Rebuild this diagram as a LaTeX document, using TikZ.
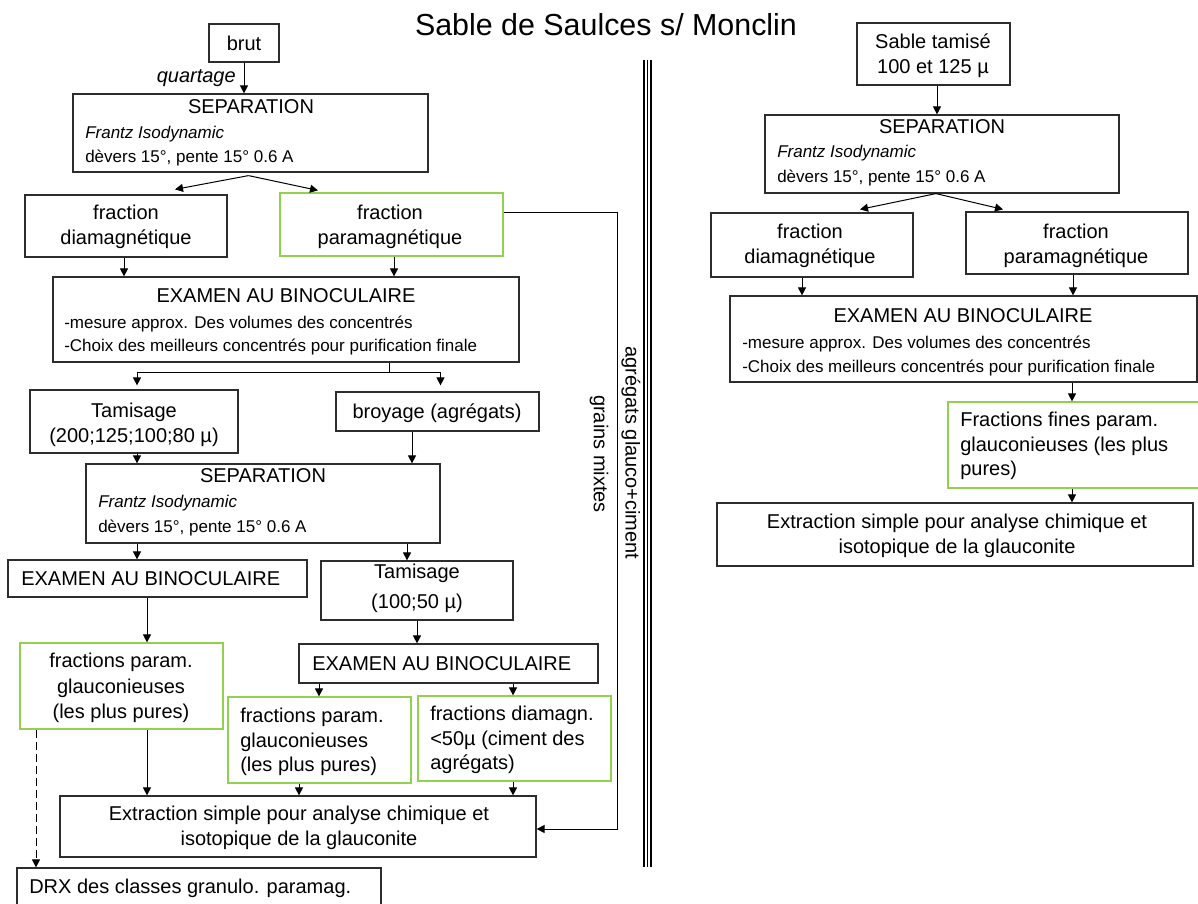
\documentclass[tikz,border=0pt]{standalone}
\usepackage{fontspec}
\setmainfont{Liberation Sans}
\usetikzlibrary{arrows.meta,calc,fit}
\definecolor{lgreen}{RGB}{146,208,80}
\definecolor{bline}{RGB}{45,45,45}
\begin{document}
\begin{tikzpicture}[x=0.75pt,y=-0.75pt,
 box/.style={draw=bline,line width=0.9pt,inner sep=0pt},
 gbox/.style={draw=lgreen,line width=0.9pt,inner sep=0pt},
 mt/.style={font=\fontsize{15pt}{18pt}\selectfont,inner sep=0pt,anchor=base},
 st/.style={font=\fontsize{12.75pt}{15pt}\selectfont,inner sep=0pt,anchor=base west},
 arr/.style={draw=black,line width=0.75pt,-{Triangle[width=6pt,length=6pt]}},
 ln/.style={draw=black,line width=0.75pt},
 sep3/.style={draw=black,line width=0.9pt}]
\clip (0,0) rectangle (1198,903);
\fill[white] (0,0) rectangle (1198,903);

% title
\node[inner sep=0pt,anchor=base,font=\fontsize{22.8pt}{26pt}\selectfont] (title) at (606,35) {Sable de Saulces s/ Monclin};

% ---------------- left boxes ----------------
\node[box,fit={(209,24) (279,62)}] (brut) {};
\node[box,fit={(73,94) (428,172)}] (sep1) {};
\node[box,fit={(25,195) (227,257)}] (dia) {};
\node[gbox,fit={(280,193) (503,256)}] (para) {};
\node[box,fit={(53,277) (519,362)}] (exa1) {};
\node[box,fit={(30,390) (238,453)}] (tam1) {};
\node[box,fit={(336,392) (539,431)}] (bro) {};
\node[box,fit={(86,464) (440,543)}] (sep2) {};
\node[box,fit={(8,560) (307,597)}] (exa2) {};
\node[box,fit={(321,561) (513,620)}] (tam2) {};
\node[gbox,fit={(20,643) (223,729)}] (g1) {};
\node[box,fit={(299,644) (598,683)}] (exa3) {};
\node[gbox,fit={(228,697) (411,783)}] (g2) {};
\node[gbox,fit={(418,696) (611,781)}] (g3) {};
\node[box,fit={(60,796) (536,857)}] (ext1) {};
\node[box,fit={(17,868) (381,915)}] (drx) {};

% ---------------- right boxes ----------------
\node[box,fit={(857,23) (1010,85)}] (sab) {};
\node[box,fit={(765,115) (1119,193)}] (sepR) {};
\node[box,fit={(711,213) (913,277)}] (diaR) {};
\node[box,fit={(966,212) (1188,274)}] (paraR) {};
\node[box,fit={(730,296) (1197,382)}] (exaR) {};
\node[gbox,fit={(948,402) (1215,488)}] (finR) {};
\node[box,fit={(717,503) (1193,566)}] (extR) {};

% ---------------- left texts ----------------
\node[mt] (brut-t) at (244,50) {brut};
\node[mt,anchor=base east,font=\fontsize{15pt}{18pt}\selectfont\itshape] (quart) at (236,82) {quartage};
\node[mt] (sep1-t1) at (251,113) {SEPARATION};
\node[st,font=\fontsize{12.75pt}{15pt}\selectfont\itshape] (sep1-t2) at (85,138) {Frantz Isodynamic};
\node[st] (sep1-t3) at (85,162) {dèvers 15°, pente 15° 0.6 A};
\node[mt] (dia-t1) at (126,219) {fraction};
\node[mt] (dia-t2) at (126,244) {diamagnétique};
\node[mt] (para-t1) at (390,219) {fraction};
\node[mt] (para-t2) at (390,244) {paramagnétique};
\node[mt] (exa1-t1) at (286,302) {EXAMEN AU BINOCULAIRE};
\node[st] (exa1-t2) at (64,328) {-mesure approx. Des volumes des concentrés};
\node[st] (exa1-t3) at (64,351) {-Choix des meilleurs concentrés pour purification finale};
\node[mt] (tam1-t1) at (134,417) {Tamisage};
\node[mt] (tam1-t2) at (134,442) {(200;125;100;80 µ)};
\node[mt] (bro-t) at (437,418) {broyage (agrégats)};
\node[mt] (sep2-t1) at (263,482) {SEPARATION};
\node[st,font=\fontsize{12.75pt}{15pt}\selectfont\itshape] (sep2-t2) at (98,507) {Frantz Isodynamic};
\node[st] (sep2-t3) at (98,532) {dèvers 15°, pente 15° 0.6 A};
\node[mt,anchor=base west] (exa2-t) at (21,585) {EXAMEN AU BINOCULAIRE};
\node[mt] (tam2-t1) at (417,578) {Tamisage};
\node[mt] (tam2-t2) at (417,608) {(100;50 µ)};
\node[mt] (g1-t1) at (121,667) {fractions param.};
\node[mt] (g1-t2) at (121,693) {glauconieuses};
\node[mt] (g1-t3) at (121,718) {(les plus pures)};
\node[mt,anchor=base west] (exa3-t) at (312,670) {EXAMEN AU BINOCULAIRE};
\node[mt,anchor=base west] (g2-t1) at (240,722) {fractions param.};
\node[mt,anchor=base west] (g2-t2) at (240,747) {glauconieuses};
\node[mt,anchor=base west] (g2-t3) at (240,771) {(les plus pures)};
\node[mt,anchor=base west] (g3-t1) at (430,720) {fractions diamagn.};
\node[mt,anchor=base west] (g3-t2) at (430,745) {<50µ (ciment des};
\node[mt,anchor=base west] (g3-t3) at (430,769) {agrégats)};
\node[mt] (ext1-t1) at (299,820) {Extraction simple pour analyse chimique et};
\node[mt] (ext1-t2) at (299,845) {isotopique de la glauconite};
\node[mt,anchor=base west] (drx-t) at (29,893) {DRX des classes granulo. paramag.};
\node[mt,anchor=center,rotate=-90] (agr) at (631,453) {agrégats glauco+ciment};
\node[mt,anchor=center,rotate=-90] (gmx) at (599,454) {grains mixtes};

% ---------------- right texts ----------------
\node[mt] (sab-t1) at (933,48) {Sable tamisé};
\node[mt] (sab-t2) at (933,73) {100 et 125 µ};
\node[mt] (sepR-t1) at (942,133) {SEPARATION};
\node[st,font=\fontsize{12.75pt}{15pt}\selectfont\itshape] (sepR-t2) at (777,157) {Frantz Isodynamic};
\node[st] (sepR-t3) at (777,182) {dèvers 15°, pente 15° 0.6 A};
\node[mt] (diaR-t1) at (810,238) {fraction};
\node[mt] (diaR-t2) at (810,263) {diamagnétique};
\node[mt] (paraR-t1) at (1076,238) {fraction};
\node[mt] (paraR-t2) at (1076,263) {paramagnétique};
\node[mt] (exaR-t1) at (963,322) {EXAMEN AU BINOCULAIRE};
\node[st] (exaR-t2) at (742,348) {-mesure approx. Des volumes des concentrés};
\node[st] (exaR-t3) at (742,372) {-Choix des meilleurs concentrés pour purification finale};
\node[mt,anchor=base west] (finR-t1) at (960,426) {Fractions fines param.};
\node[mt,anchor=base west] (finR-t2) at (960,451) {glauconieuses (les plus};
\node[mt,anchor=base west] (finR-t3) at (960,475) {pures)};
\node[mt] (extR-t1) at (957,528) {Extraction simple pour analyse chimique et};
\node[mt] (extR-t2) at (957,553) {isotopique de la glauconite};

% ---------------- separator ----------------
\draw[sep3] (644,60) -- (644,867);
\draw[sep3] (647.5,60) -- (647.5,867);
\draw[sep3] (651,60) -- (651,867);

% ---------------- left connectors ----------------
\draw[arr] (brut.south) -- (brut.south |- sep1.north);
\coordinate (s1o) at ($(sep1.south)+(-2,3)$);
\draw[arr] (s1o) -- ($(dia.north)+(49,-5)$);
\draw[arr] (s1o) -- ($(para.north)+(-73.5,-2)$);
\draw[arr] ($(para.east)+(0,-12.5)$) -| ($(ext1.east)+(81,2.5)$) -- ($(ext1.east)+(0,2.5)$);
\coordinate (d1) at ($(dia.south)+(-2,0)$);
\draw[arr] (d1) -- (d1 |- exa1.north);
\coordinate (p1) at ($(para.south)+(2.5,0)$);
\draw[arr] (p1) -- (p1 |- exa1.north);
\coordinate (e1s) at ($(exa1.south)+(103,0)$);
\coordinate (jl) at ($(tam1.north)+(3,-17)$);
\coordinate (jr) at ($(bro.north)+(3,-19)$);
\coordinate (jl2) at ($(tam1.north)+(3,-4)$);
\coordinate (jr2) at ($(bro.north)+(3,-6)$);
\draw[ln] (e1s) -- (e1s |- jl);
\draw[ln] (jl) -- (jr);
\draw[arr] (jl) -- (jl2);
\draw[arr] (jr) -- (jr2);
\coordinate (t1s) at ($(tam1.south)+(3,0)$);
\draw[arr] (t1s) -- (t1s |- sep2.north);
\coordinate (b1s) at ($(bro.south)+(-25.5,0)$);
\draw[arr] (b1s) -- (b1s |- sep2.north);
\draw[arr] (t1s |- sep2.south) -- (t1s |- exa2.north);
\coordinate (s2b) at ($(sep2.south)+(144,0)$);
\draw[arr] (s2b) -- (s2b |- tam2.north);
\coordinate (e2a) at ($(exa2.south)+(-10.5,0)$);
\draw[arr] (e2a) -- (e2a |- g1.north);
\draw[arr] (tam2.south) -- (tam2.south |- exa3.north);
\coordinate (e3a) at ($(exa3.south)+(-129.5,0)$);
\coordinate (e3b) at ($(exa3.south)+(64.5,0)$);
\draw[arr] (e3a) -- (e3a |- g2.north);
\draw[arr] (e3b) -- (e3b |- g3.north);
\draw[arr] (e2a |- g1.south) -- (e2a |- ext1.north);
\coordinate (g2a) at ($(g2.south)+(-20.5,0)$);
\draw[arr] (g2a) -- (g2a |- ext1.north);
\coordinate (g3a) at ($(g3.south)+(-1.5,0)$);
\draw[arr] (g3a) -- (g3a |- ext1.north);
\coordinate (g1d) at ($(g1.south)+(-85.5,0)$);
\draw[arr,dash pattern=on 6pt off 3pt] (g1d) -- (g1d |- drx.north);

% ---------------- right connectors ----------------
\coordinate (sb) at ($(sab.south)+(3.5,0)$);
\draw[arr] (sb) -- (sb |- sepR.north);
\coordinate (sR) at ($(sepR.south)+(-6,0)$);
\draw[arr] (sR) -- ($(diaR.north)+(48,-3)$);
\draw[arr] (sR) -- ($(paraR.north)+(-74,-2)$);
\coordinate (dR) at ($(diaR.south)+(-10,0)$);
\draw[arr] (dR) -- (dR |- exaR.north);
\coordinate (pR) at ($(paraR.south)+(-4,0)$);
\draw[arr] (pR) -- (pR |- exaR.north);
\coordinate (eR) at ($(exaR.south)+(108.5,0)$);
\draw[arr] (eR) -- (eR |- finR.north);
\draw[arr] (eR |- finR.south) -- (eR |- extR.north);
\end{tikzpicture}
\end{document}
